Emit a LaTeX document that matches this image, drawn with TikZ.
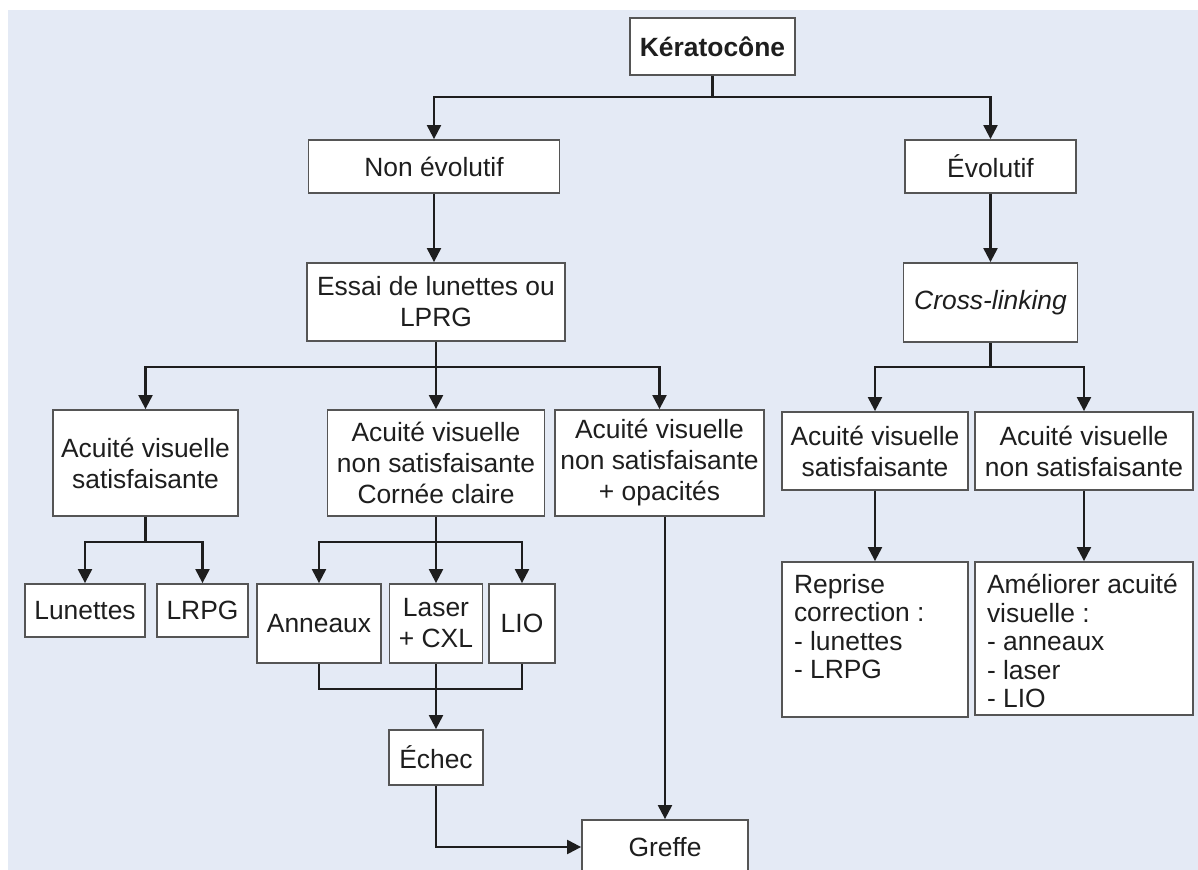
\documentclass[tikz,border=0pt]{standalone}
\usepackage{fontspec}
\setmainfont{Liberation Sans}
\usetikzlibrary{arrows.meta}
\definecolor{mybg}{HTML}{E4EAF5}
\definecolor{myline}{HTML}{1E1E1E}
\definecolor{myframe}{HTML}{555555}
\newcommand{\toptext}[3]{\parbox[c][#1][t]{#2}{\raggedright\baselineskip=14.3pt #3}}

\begin{document}
\begin{tikzpicture}[x=0.5pt, y=-0.5pt, font=\fontsize{13.2}{15.5}\selectfont, text=myline,
    box/.style={draw=myframe, fill=white, line width=0.9pt, align=center, inner sep=2pt},
    link/.style={myline, line width=1.1pt},
    arr/.style={link, -{Triangle[width=7pt, length=7pt]}}]
    \useasboundingbox (0,0) rectangle (1198,870);
    \clip (0,0) rectangle (1198,870);
    \fill[mybg] (8,10) rectangle (1198,870);

    \node[box, minimum width=82.5pt, minimum height=28.5pt] (kerato) at (712.5,46.5) {\textbf{Kératocône}};
    \node[box, minimum width=125.5pt, minimum height=26.5pt] (nonevol) at (434,166.5) {Non évolutif};
    \node[box, minimum width=85.5pt, minimum height=26.5pt] (evol) at (990.5,166.5) {Évolutif};
    \node[box, minimum width=129pt, minimum height=39pt] (essai) at (436,302) {Essai de lunettes ou\\LPRG};
    \node[box, minimum width=87pt, minimum height=39.5pt] (cross) at (990.5,302.5) {\textit{Cross-linking}};

    \node[box, minimum width=92.5pt, minimum height=53pt] (avsat) at (145.5,463) {Acuité visuelle\\satisfaisante};
    \node[box, minimum width=108.5pt, minimum height=53pt] (avcc) at (436,463) {Acuité visuelle\\non satisfaisante\\Cornée claire};
    \node[box, minimum width=104.5pt, minimum height=53pt] (avop) at (659.5,463) {Acuité visuelle\\non satisfaisante\\+ opacités};
    \node[box, minimum width=93pt, minimum height=39pt] (evsat) at (875,451) {Acuité visuelle\\satisfaisante};
    \node[box, minimum width=109pt, minimum height=39pt] (evnon) at (1084,451) {Acuité visuelle\\non satisfaisante};

    \node[box, minimum width=60pt, minimum height=26.5pt] (lun) at (85,610.5) {Lunettes};
    \node[box, minimum width=45.5pt, minimum height=26.5pt] (lrpg) at (202.5,610.5) {LRPG};
    \node[box, minimum width=62pt, minimum height=39.5pt] (ann) at (319,623.5) {Anneaux};
    \node[box, minimum width=46.5pt, minimum height=39.5pt] (laser) at (436,623.5) {Laser\\+ CXL};
    \node[box, minimum width=33pt, minimum height=39.5pt] (lio) at (522,623.5) {LIO};
    \node[box, minimum width=47pt, minimum height=27.5pt] (echec) at (436,757.5) {Échec};
    \node[box, minimum width=83pt, minimum height=27pt] (greffe) at (665,847) {Greffe};

    \node[box, inner sep=6pt] (reprise) at (875,639.5)
        {\toptext{65.5pt}{81pt}{Reprise\\correction :\\- lunettes\\- LRPG}};
    \node[box, inner sep=6pt] (amel) at (1084,638.5)
        {\toptext{64.5pt}{97pt}{Améliorer acuité\\visuelle :\\- anneaux\\- laser\\- LIO}};

    \coordinate (j1) at (712.5,97);
    \coordinate (j2) at (436,367);
    \coordinate (j3) at (990.5,367);
    \coordinate (j4) at (145.5,542);
    \coordinate (j5) at (436,542);
    \coordinate (j6) at (436,689);

    \draw[link] (kerato.south) -- (j1);
    \draw[arr] (j1) -| (nonevol.north);
    \draw[arr] (j1) -| (evol.north);
    \draw[arr] (nonevol.south) -- (nonevol.south |- essai.north);
    \draw[arr] (evol.south) -- (cross.north);

    \draw[link] (essai.south) -- (j2);
    \draw[arr] (j2) -| (avsat.north);
    \draw[arr] (j2) -- (avcc.north);
    \draw[arr] (j2) -| (avop.north);
    \draw[link] (cross.south) -- (j3);
    \draw[arr] (j3) -| (evsat.north);
    \draw[arr] (j3) -| (evnon.north);

    \draw[link] (avsat.south) -- (j4);
    \draw[arr] (j4) -| (lun.north);
    \draw[arr] (j4) -| (lrpg.north);
    \draw[link] (avcc.south) -- (j5);
    \draw[arr] (j5) -| (ann.north);
    \draw[arr] (j5) -- (laser.north);
    \draw[arr] (j5) -| (lio.north);

    \draw[link] (ann.south) |- (j6) -| (lio.south);
    \draw[arr] (laser.south) -- (echec.north);
    \draw[arr] (echec.south) |- (greffe.west);
    \draw[arr] (avop.south -| greffe.north) -- (greffe.north);

    \draw[arr] (evsat.south) -- (reprise.north);
    \draw[arr] (evnon.south) -- (amel.north);
\end{tikzpicture}
\end{document}
